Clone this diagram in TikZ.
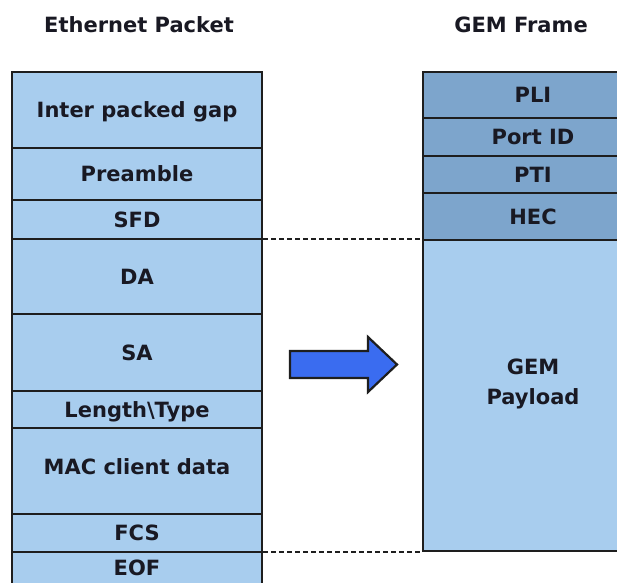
\documentclass[tikz,border=0pt]{standalone}
\usepackage{fontspec}
\setmainfont{DejaVu Sans}
\definecolor{lightb}{RGB}{168,205,238}
\definecolor{darkb}{RGB}{125,165,204}
\definecolor{linec}{RGB}{30,30,30}
\definecolor{arrowb}{RGB}{58,108,240}
\definecolor{txtc}{RGB}{25,25,35}
\begin{document}
\begin{tikzpicture}[x=1pt,y=-1pt,
  field/.style={draw=linec, line width=2.2pt, fill=lightb, rectangle, inner sep=0pt,
    minimum width=250pt, font=\fontsize{21}{25}\selectfont\bfseries, text=txtc,
    text height=17pt, text depth=2pt},
  gemfield/.style={field, minimum width=220pt, fill=darkb},
  title/.style={font=\fontsize{21}{25}\selectfont\bfseries, text=txtc, inner sep=0pt},
  dashc/.style={draw=linec, line width=2.4pt, dash pattern=on 5pt off 3pt}]
\clip (0,0) rectangle (617,582);
\fill[white] (0,0) rectangle (617,582);
% titles
\node[title] (t1) at (139,25) {Ethernet Packet};
\node[title] (t2) at (521,25) {GEM Frame};
% Ethernet packet
\node[field, minimum height=76pt] (ipg) at (137,110) {Inter packed gap};
\node[field, minimum height=52pt] (pre) at (137,174) {Preamble};
\node[field, minimum height=39pt] (sfd) at (137,219.5) {SFD};
\node[field, minimum height=75pt] (da) at (137,276.5) {DA};
\node[field, minimum height=77pt] (sa) at (137,352.5) {SA};
\node[field, minimum height=37pt] (len) at (137,409.5) {Length\textbackslash Type};
\node[field, minimum height=86pt, text height=10pt, text depth=3pt] (mac) at (137,471) {MAC client data};
\node[field, minimum height=38pt] (fcs) at (137,533) {FCS};
\node[field, minimum height=32pt] (eof) at (137,568) {EOF};
% GEM frame
\node[gemfield, minimum height=46pt] (pli) at (533,95) {PLI};
\node[gemfield, minimum height=38pt] (port) at (533,137) {Port ID};
\node[gemfield, minimum height=37pt] (pti) at (533,174.5) {PTI};
\node[gemfield, minimum height=47pt] (hec) at (533,216.5) {HEC};
\node[gemfield, fill=lightb, minimum height=311pt] (pay) at (533,395.5) {};
\node[title, align=center] (paytxt) at (533,384) {GEM\\[5pt]Payload};
% dashed mapping lines
\draw[dashc] (pay.north west -| da.east) -- (pay.north west);
\draw[dashc] (pay.south west -| eof.east) -- (pay.south west);
% big arrow
\draw[draw=linec, line width=2.2pt, fill=arrowb, line join=miter]
  (290,351) -- (368,351) -- (368,337) -- (397,364.5) -- (368,392) -- (368,378) -- (290,378) -- cycle;
\end{tikzpicture}
\end{document}
